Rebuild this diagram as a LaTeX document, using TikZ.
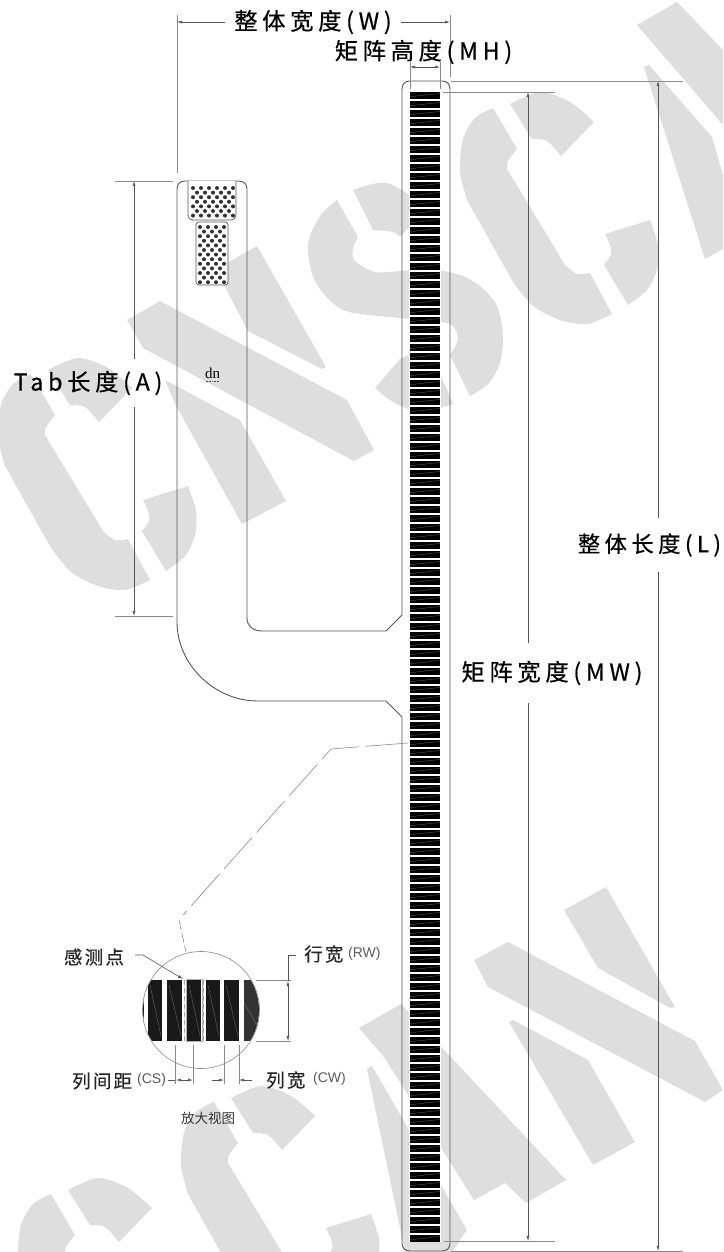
\documentclass[tikz,border=0pt]{standalone}
\usepackage{fontspec}
\setmainfont{Liberation Sans}
\newfontfamily\cjkbig[LetterSpace=20,FakeBold=0.5]{Noto Sans CJK SC}
\newfontfamily\cjkmid[LetterSpace=12,FakeBold=0.4]{Noto Sans CJK SC}
\newfontfamily\cjkplain{Noto Sans CJK SC}
\newfontfamily\logofont{Liberation Serif}
\usetikzlibrary{arrows.meta}
\definecolor{wmgray}{HTML}{DEDEDE}
\definecolor{linegray}{HTML}{555555}
\definecolor{extgray}{HTML}{8A8A8A}
\begin{document}
\begin{tikzpicture}
[x=1pt,y=-1pt,>={Latex[length=5pt,width=3pt]},
wmark/.style={fill=wmgray,draw=none},
outline/.style={draw=linegray,line width=0.9pt,line join=round},
extline/.style={draw=extgray,line width=0.6pt},
dimline/.style={draw=linegray,line width=0.6pt},
biglabel/.style={font=\cjkbig\fontsize{23.3}{25}\selectfont,text=black,inner sep=0pt},
midlabel/.style={font=\cjkmid\fontsize{18.5}{20}\selectfont,text=black!85,inner sep=0pt},
smalllabel/.style={font=\fontsize{14}{15}\selectfont,text=black!65,inner sep=0pt},
cmark/.pic={
 \fill[wmark] (510,104) -- plot[smooth] coordinates {(510,104)(540,92)(570,102)(594,122)} -- (561,156) -- plot[smooth] coordinates {(561,156)(547,141)(532,139)} -- cycle;
 \fill[wmark] (493,108) -- (517,149) -- plot[smooth] coordinates {(517,149)(508,161)(507,169)} -- (565,265) -- plot[smooth] coordinates {(565,265)(577,274)(590,273)} -- (612,314) -- plot[smooth] coordinates {(612,314)(587,324)(560,320)(533,306)(513,282)} -- (467,200) -- plot[smooth] coordinates {(467,200)(460,171)(463,139)(475,118)(493,108)} -- cycle;
 \fill[wmark] (605,234) -- (650,220) -- plot[smooth] coordinates {(650,220)(658,245)(657,269)(647,290)(628,305)} -- (604,265) -- plot[smooth] coordinates {(604,265)(611,255)(610,245)(605,234)} -- cycle;
}]
\useasboundingbox (0,0) rectangle (723,1252);
\clip (0,0) rectangle (723,1252);
% watermark
\pic at (0,0) {cmark};
\pic at (-462,266) {cmark};
\pic at (-279,994) {cmark};
\pic at (-442,1086) {cmark};
% first N
\fill[wmark] (257,246) -- (326,367) -- (322,369) -- (248,331) -- (224,285) -- (224,265) -- cycle;
\fill[wmark] (160,301) -- (347,400) -- (374,450) -- (354,461) -- (143,348) -- (127,320) -- cycle;
\fill[wmark] (165,380) -- (240,420) -- (286,501) -- (242,524) -- (175,404) -- cycle;
% S
\fill[wmark] (353,190) -- plot[smooth] coordinates {(353,190)(387,183)(427,207)} -- (400,237) -- plot[smooth] coordinates {(400,237)(393,232)(373,230)} -- cycle;
\fill[wmark] (337,200) -- (358,237) -- plot[smooth] coordinates {(358,237)(353,249)(355,261)(375,272)(400,271)(430,269)(460,275)(480,286)(497,306)(503,335)(500,363)(488,384)(470,396)} -- (450,355) -- plot[smooth] coordinates {(450,355)(458,339)(453,326)(442,322)(400,318)(343,310)(315,281)(308,245)(320,216)(337,200)} -- cycle;
\fill[wmark] (400,359) -- (375,388) -- plot[smooth] coordinates {(375,388)(393,402)(420,412)(453,404)} -- (435,362) -- plot[smooth] coordinates {(435,362)(418,352)(400,359)} -- cycle;
% right N top
\fill[wmark] (637,25) -- (677,2) -- (723,50) -- (723,125) -- cycle;
\fill[wmark] (644,67) -- (649,65) -- (712,137) -- (723,175) -- (723,249) -- (705,259) -- cycle;
% bottom A and N
\fill[wmark] (359,1028) -- (401,1004) -- (566,1180) -- (526,1203) -- (505,1183) -- (474,1200) -- (384,1057) -- cycle;
\fill[wmark] (367,1069) -- (372,1066) -- (467,1230) -- (452,1252) -- (405,1252) -- cycle;
\fill[wmark] (474,960) -- (508,942) -- (695,1041) -- (723,1090) -- (705,1102) -- (488,987) -- cycle;
\fill[wmark] (564,910) -- (606,887) -- (675,1007) -- (670,1008) -- (598,968) -- cycle;
\fill[wmark] (509,1022) -- (513,1020) -- (588,1060) -- (635,1142) -- (593,1165) -- cycle;
% outline of the part
\draw[outline] (185,181) -- (238,181) .. controls (244,181) and (247,184) .. (247,189) -- (247,618)
 .. controls (247,626) and (253,631) .. (262,631) -- (386,631) -- (402,615) -- (402,89)
 .. controls (402,84) and (405,81) .. (410,81) -- (442,81) .. controls (447,81) and (450,84) .. (450,89)
 -- (450,1243) .. controls (450,1248) and (447,1251) .. (442,1251) -- (410,1251)
 .. controls (405,1251) and (402,1248) .. (402,1243) -- (402,717) -- (386,701) -- (258,701)
 .. controls (214,701) and (177,664) .. (177,622) -- (177,189) .. controls (177,184) and (180,181) .. (185,181) -- cycle;
% tail pads
\draw[outline,fill=white,line width=0.7pt] (188,181) -- (188,215) .. controls (188,218) and (190,220) .. (193,220) -- (231,220)
 .. controls (234,220) and (236,218) .. (236,215) -- (236,181);
\draw[outline,fill=white,line width=0.7pt,rounded corners=3pt] (196,222) rectangle (228,285);
\foreach \i in {0,2,4,6} \foreach \j in {0,...,5} \fill[black!80] (193+8*\j,188+4.6*\i) circle[radius=2];
\foreach \i in {1,3,5} \foreach \j in {0,...,4} \fill[black!80] (197+8*\j,188+4.6*\i) circle[radius=2];
\foreach \i in {0,2,...,12} \foreach \j in {0,...,3} \fill[black!80] (200+8*\j,227+4.6*\i) circle[radius=2];
\foreach \i in {1,3,...,11} \foreach \j in {0,...,2} \fill[black!80] (204+8*\j,227+4.6*\i) circle[radius=2];
\node[inner sep=0pt,font=\logofont\fontsize{15}{15}\selectfont] (logo) at (212.5,373.5) {dn};
\draw[black!70,line width=1.3pt,dash pattern=on 1pt off 0.6pt] (205.5,381.5) -- (219,381.5);
% sensor rows
\fill[white] (409,91) rectangle (441,1242);
\foreach \r in {0,...,127} {
 \fill[black] (410,92+9*\r) rectangle (440,98.6+9*\r);
 \draw[black!55,line width=0.25pt] (410,96.8+9*\r) -- (440,93.4+9*\r);
}
% overall width
\coordinate (wleft) at (177,22);
\coordinate (wright) at (450,22);
\node[biglabel,inner xsep=9pt] (wlabel) at (313,22) {整体宽度(W)};
\draw[extline] (177,15) -- (177,173);
\draw[extline] (450,15) -- (450,77);
\draw[dimline,->] (wlabel) -- (wleft);
\draw[dimline,->] (wlabel) -- (wright);
% matrix height
\node[biglabel] (mhlabel) at (423.5,52) {矩阵高度(MH)};
\coordinate (mhleft) at (410,67);
\coordinate (mhright) at (440,67);
\draw[extline] (410,62) -- (410,89);
\draw[extline] (440,62) -- (440,89);
\draw[dimline,<->] (mhleft) -- (mhright);
% overall length
\coordinate (ltop) at (658,81);
\coordinate (lbot) at (658,1251);
\node[biglabel,font=\cjkbig\fontsize{22.3}{25}\selectfont,inner ysep=15pt] (llabel) at (649.5,545) {整体长度(L)};
\draw[extline] (451,81) -- (683,81);
\draw[extline] (451,1251) -- (683,1251);
\draw[dimline,->] (llabel.north -| ltop) -- (ltop);
\draw[dimline,->] (llabel.south -| lbot) -- (lbot);
% matrix width
\coordinate (mwtop) at (528,92);
\coordinate (mwbot) at (528,1241);
\node[biglabel,inner ysep=18pt] (mwlabel) at (552,673) {矩阵宽度(MW)};
\draw[extline] (443,92) -- (555,92);
\draw[extline] (444,1241) -- (555,1241);
\draw[dimline,->] (mwlabel.north -| mwtop) -- (mwtop);
\draw[dimline,->] (mwlabel.south -| mwbot) -- (mwbot);
% tab length
\coordinate (atop) at (134,181);
\coordinate (abot) at (134,616);
\node[biglabel,inner ysep=12pt] (alabel) at (88,383) {Tab长度(A)};
\draw[extline] (115,181) -- (173,181);
\draw[extline] (115,616) -- (173,616);
\draw[dimline,->] (alabel.north -| atop) -- (atop);
\draw[dimline,->] (alabel.south -| abot) -- (abot);
% detail leader
\draw[extgray,line width=0.6pt,dash pattern=on 42pt off 7pt] (408,743) -- (331,749) -- (183,915);
\draw[extgray,line width=0.6pt,dash pattern=on 10pt off 3pt] (179,920) -- (186,952);
% detail view
\node[draw=extgray,line width=0.6pt,circle,minimum size=117pt,inner sep=0pt] (detail) at (201,1010) {};
\begin{scope}
\clip (201,1010) circle[radius=58];
\foreach \a/\b in {148/162,167/182,187/201,206/220,224/239} {
 \fill[black!90] (\a,980) rectangle (\b,1041);
 \draw[black!55,line width=0.3pt] (\a+2,985) -- (\b-1,1036);
}
\fill[black!80] (244,980) rectangle (262,1041);
\draw[black!50,line width=0.3pt] (244,1003) -- (260,1030);
\fill[black!85] (141,998) rectangle (144,1022);
\end{scope}
\draw[black!30,line width=0.6pt] (186,979.5) rectangle (202,1041.5);
\draw[black!35,line width=1pt,dash pattern=on 5pt off 3pt] (184,980) -- (184,1041);
\draw[black!35,line width=1pt,dash pattern=on 5pt off 3pt] (203,980) -- (203,1041);
% sensing point
\node[midlabel] (ptlabel) at (94,957) {感测点};
\coordinate (ptend) at (183,979);
\draw[dimline,->] (135,955) -- (143,955) -- (ptend);
% row width
\node[midlabel,anchor=west] (rwlabel) at (304,954) {行宽};
\node[smalllabel,anchor=west] (rwsmall) at (348,954) {(RW)};
\draw[extline] (256,980) -- (291,980);
\draw[extline] (256,1041) -- (291,1041);
\draw[dimline] (296,955) -- (288,955) -- (288,981);
\draw[dimline,<->] (288,981) -- (288,1041);
% column spacing and width
\foreach \x in {175,193.5,224,239} \draw[extline] (\x,1045) -- (\x,1084);
\node[midlabel,anchor=west] (cslabel) at (72,1081) {列间距};
\node[smalllabel,anchor=west] (cssmall) at (137,1080) {(CS)};
\node[midlabel,anchor=west] (cwlabel) at (266,1080) {列宽};
\node[smalllabel,anchor=west] (cwsmall) at (313,1079) {(CW)};
\draw[dimline] (168,1080) -- (175,1080);
\draw[dimline,<->] (176,1080) -- (193,1080);
\draw[dimline,->] (212,1080) -- (224,1080);
\draw[dimline,->] (252,1080) -- (239,1080);
% caption
\node[font=\cjkplain\fontsize{13.5}{15}\selectfont,text=black!80,inner sep=0pt] (caption) at (208,1118) {放大视图};
\end{tikzpicture}
\end{document}
